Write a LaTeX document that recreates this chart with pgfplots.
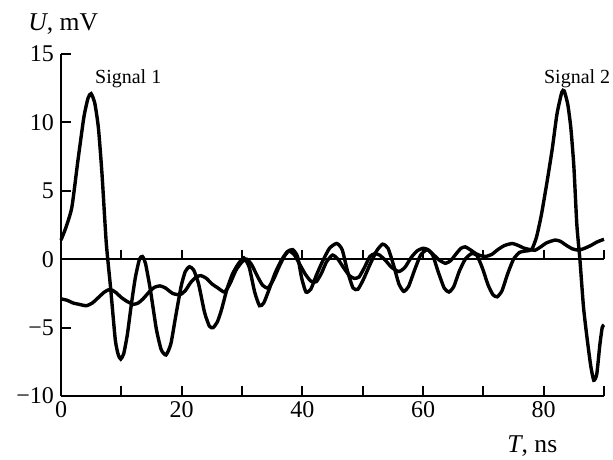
\documentclass[border=0pt]{standalone}
\usepackage{pgfplots}
\pgfplotsset{compat=1.18}
\usepackage{fontspec}
\setmainfont{Liberation Serif}
\begin{document}
\begin{tikzpicture}
\begin{axis}[
 scale only axis, width=271.5pt, height=171pt,
 xmin=0, xmax=90, ymin=-10, ymax=15,
 axis x line=bottom, axis y line=left,
 axis line style={-, line width=1.1pt},
 every tick/.style={black, line width=1.1pt},
 tick align=inside,
 major tick length=4.8pt,
 xtick={0,10,...,90}, xticklabels={0,,20,,40,,60,,80,},
 ytick={-10,-5,0,5,10,15}, yticklabels={−10,−5,0,5,10,15},
 tick label style={font=\fontsize{12}{14}\selectfont},
 xticklabel style={yshift=1pt},
 clip=false,
]
\coordinate (O) at (rel axis cs:0,0);
\draw[line width=1.1pt] (axis cs:0,0) -- (axis cs:90,0);
\pgfplotsinvokeforeach{10,20,30,40,50,60,70,80,90}{
  \draw[line width=1.1pt] (axis cs:#1,0) -- ++(0pt,4.8pt);
}
\addplot[black, line width=1.7pt, smooth, tension=0.35] coordinates {
(0,1.4) (0.8,2.3) (1.8,3.8) (2.8,7.2) (3.8,10.4) (4.5,11.8) (5.0,12.1) (5.6,11.4)
(6.2,9.6) (6.8,6.2) (7.5,1.2) (8.2,-2.0) (9.0,-5.9) (9.5,-7.0) (9.9,-7.3) (10.4,-6.9)
(11.0,-5.5) (11.6,-3.5) (12.3,-1.4) (13.0,0.0) (13.5,0.2) (14.0,-0.3) (14.8,-2.2)
(15.8,-5.1) (16.6,-6.6) (17.4,-7.0) (18.2,-6.2) (19.0,-4.2) (19.9,-2.0) (20.6,-0.9)
(21.3,-0.55) (22.0,-0.8) (22.8,-1.8) (23.8,-3.9) (24.6,-4.9) (25.2,-5.0) (25.9,-4.6)
(26.6,-3.7) (27.5,-2.2) (28.4,-1.1) (29.3,-0.4) (30.3,0.1) (31.2,-0.6) (32.1,-2.4)
(32.9,-3.4) (33.6,-3.2) (34.5,-2.2) (35.5,-1.0) (36.5,-0.1) (37.5,0.55) (38.4,0.7)
(39.2,0.2) (39.9,-1.4) (40.6,-2.4) (41.4,-2.2) (42.3,-1.2) (43.3,-0.2) (44.5,0.8)
(45.7,1.15) (46.6,0.7) (47.5,-0.9) (48.4,-2.1) (49.2,-2.2) (50.1,-1.5) (51.2,-0.4)
(52.3,0.6) (53.3,1.1) (54.2,0.8) (55.1,-0.4) (56.0,-1.8) (56.8,-2.35) (57.6,-2.0)
(58.6,-0.8) (59.6,0.3) (60.7,0.7) (61.6,0.3) (62.5,-0.9) (63.5,-2.1) (64.3,-2.4)
(65.1,-2.0) (66.0,-0.9) (67.0,0.0) (68.0,0.4) (68.9,0.3) (69.8,-0.6) (70.8,-1.9)
(71.6,-2.6) (72.3,-2.75) (73.1,-2.3) (74.0,-1.1) (75.0,0.0) (76.0,0.5) (77.0,0.6)
(78.0,0.7) (78.8,1.6) (79.6,3.2) (80.5,5.5) (81.4,8.0) (82.2,10.6) (83.0,12.2)
(83.4,12.3) (84.0,11.3) (84.5,9.6) (85.0,6.8) (85.5,2.5) (86.0,0.0) (86.6,-3.5)
(87.2,-5.8) (87.8,-7.8) (88.3,-8.85) (88.8,-8.4) (89.3,-6.3) (89.7,-5.0) (90.0,-4.8)
};
\addplot[black, line width=1.7pt, smooth, tension=0.35] coordinates {
(0,-2.9) (1,-3.0) (2,-3.2) (3,-3.3) (4.2,-3.4) (5.2,-3.2) (6.2,-2.8) (7.2,-2.4)
(8.1,-2.2) (9.0,-2.4) (10.0,-2.8) (11.0,-3.1) (12.0,-3.3) (12.8,-3.2) (13.6,-2.9)
(14.6,-2.4) (15.5,-2.05) (16.4,-1.95) (17.3,-2.1) (18.5,-2.5) (19.7,-2.6) (20.6,-2.3)
(21.5,-1.7) (22.4,-1.3) (23.2,-1.2) (24.1,-1.4) (25.0,-1.8) (26.0,-2.1) (27.1,-2.4)
(28.0,-1.8) (29.0,-0.8) (30.0,-0.2) (30.8,0.0) (31.6,-0.4) (32.5,-1.2) (33.4,-1.9)
(34.3,-2.1) (35.2,-1.5) (36.2,-0.5) (37.0,0.2) (37.8,0.6) (38.7,0.3) (39.6,-0.4)
(40.5,-1.1) (41.4,-1.6) (42.3,-1.65) (43.2,-1.0) (44.0,-0.2) (45.0,0.3) (45.9,0.0)
(46.8,-0.6) (47.8,-1.2) (48.6,-1.4) (49.4,-1.3) (50.3,-0.6) (51.2,0.2) (52.0,0.4)
(52.8,0.3) (53.8,-0.1) (54.8,-0.6) (56.0,-0.9) (57.0,-0.6) (58.0,0.1) (59.0,0.6)
(60.0,0.8) (60.8,0.7) (61.8,0.3) (62.8,-0.1) (63.75,-0.3) (64.6,-0.1) (65.5,0.4)
(66.3,0.8) (67.0,0.9) (67.8,0.7) (68.8,0.4) (69.6,0.25) (70.4,0.2) (71.4,0.35)
(72.4,0.7) (73.5,1.0) (74.8,1.15) (75.8,1.0) (76.8,0.8) (77.8,0.7) (78.6,0.66)
(79.5,0.9) (80.5,1.2) (81.9,1.4) (82.8,1.3) (83.8,1.0) (84.8,0.75) (85.8,0.66)
(86.8,0.8) (87.8,1.0) (88.8,1.25) (89.65,1.4) (90,1.45)
};
\node[anchor=base west, inner sep=0pt, font=\fontsize{12.8}{15}\selectfont]
  at ([xshift=-16.5pt, yshift=11.7pt]axis cs:0,15) {\textit{U}, mV};
\node[anchor=base west, inner sep=0pt, font=\fontsize{12.8}{15}\selectfont]
  at ([xshift=223pt, yshift=-28.3pt]axis cs:0,-10) {\textit{T}, ns};
\node[anchor=base west, inner sep=0pt, font=\fontsize{10}{12}\selectfont]
  at (axis cs:5.6,12.84) {Signal 1};
\node[anchor=base west, inner sep=0pt, font=\fontsize{10}{12}\selectfont]
  at (axis cs:80.0,12.84) {Signal 2};
\end{axis}
\pgfresetboundingbox
\path[use as bounding box] ([shift={(-30.5pt,-31.5pt)}]O) rectangle ([shift={(276pt,198pt)}]O);
\end{tikzpicture}
\end{document}
